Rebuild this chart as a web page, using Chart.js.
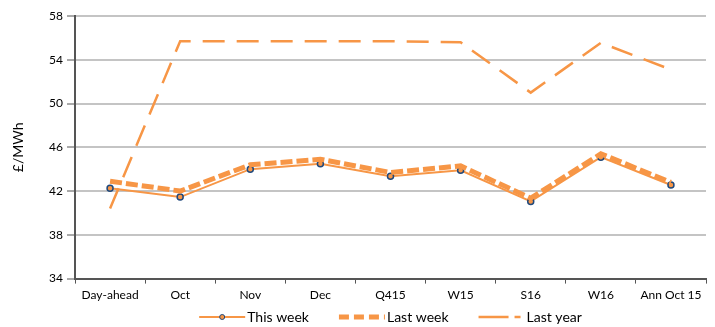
<!DOCTYPE html>
<html>
<head>
<meta charset="utf-8">
<script src="https://cdn.jsdelivr.net/npm/chart.js@4"></script>
<style>
  html, body { margin: 0; padding: 0; background: #fff; }
  #wrap { width: 715px; height: 327px; }
</style>
</head>
<body>
<div id="wrap"><canvas id="chart"></canvas></div>
<script>
// categories and values
const categories = ['Day-ahead', 'Oct', 'Nov', 'Dec', 'Q415', 'W15', 'S16', 'W16', 'Ann Oct 15'];
const thisWeek = [42.25, 41.45, 44.0, 44.5, 43.35, 43.9, 41.05, 45.1, 42.55];
const lastWeek = [42.9, 42.0, 44.4, 44.9, 43.7, 44.3, 41.35, 45.4, 42.8];
const lastYear = [40.4, 55.7, 55.7, 55.7, 55.7, 55.6, 51.0, 55.55, 53.1];
const yTicks = [34, 38, 42, 46, 50, 54, 58];

const orange = '#F79646';
const markerBorder = '#1F497D';
const fontFamily = 'Lato, "DejaVu Sans", sans-serif';

// legend drawn by hand under the x axis, centred on the plot area
const bottomLegend = {
    id: 'bottomLegend',
    afterDraw(chart) {
        const ctx = chart.ctx;
        const area = chart.chartArea;
        const lineLen = 46, textGap = 2, itemGap = 30;
        const y = 317;
        ctx.save();
        ctx.font = '14px ' + fontFamily;
        const items = chart.data.datasets.map(ds => ({ ds, w: lineLen + textGap + ctx.measureText(ds.label).width }));
        const total = items.reduce((s, it) => s + it.w, 0) + itemGap * (items.length - 1);
        let x = (area.left + area.right) / 2 - total / 2;
        items.forEach(({ ds, w }) => {
            ctx.beginPath();
            ctx.setLineDash(ds.legendDash || []);
            ctx.lineWidth = ds.borderWidth;
            ctx.strokeStyle = ds.borderColor;
            ctx.moveTo(x, y);
            ctx.lineTo(x + lineLen, y);
            ctx.stroke();
            ctx.setLineDash([]);
            if (ds.pointRadius > 0) {
                ctx.beginPath();
                ctx.arc(x + lineLen / 2, y, 2.5, 0, Math.PI * 2);
                ctx.fillStyle = ds.pointBackgroundColor;
                ctx.fill();
                ctx.lineWidth = 1;
                ctx.strokeStyle = ds.pointBorderColor;
                ctx.stroke();
            }
            ctx.fillStyle = '#000';
            ctx.textBaseline = 'middle';
            ctx.textAlign = 'left';
            ctx.fillText(ds.label, x + lineLen + textGap, y);
            x += w + itemGap;
        });
        ctx.restore();
    }
};

const ctx = document.getElementById('chart').getContext('2d');
new Chart(ctx, {
    type: 'line',
    data: {
        labels: categories,
        datasets: [
            {
                label: 'This week',
                data: thisWeek,
                borderColor: orange,
                backgroundColor: orange,
                borderWidth: 2,
                pointRadius: 3,
                pointBorderColor: markerBorder,
                pointBackgroundColor: orange,
                pointBorderWidth: 1.5,
                tension: 0,
                order: 2
            },
            {
                label: 'Last week',
                data: lastWeek,
                borderColor: orange,
                backgroundColor: orange,
                borderWidth: 5,
                borderDash: [12, 4],
                legendDash: [10, 5],
                pointRadius: 0,
                tension: 0,
                order: 1
            },
            {
                label: 'Last year',
                data: lastYear,
                borderColor: orange,
                backgroundColor: orange,
                borderWidth: 2.5,
                borderDash: [22, 12],
                legendDash: [30, 6, 6, 20],
                pointRadius: 0,
                tension: 0,
                order: 3
            }
        ]
    },
    options: {
        responsive: true,
        maintainAspectRatio: false,
        animation: false,
        layout: {
            padding: { left: 2, right: 9, top: 16, bottom: 21 }
        },
        plugins: {
            legend: { display: false },
            tooltip: { enabled: false }
        },
        scales: {
            x: {
                offset: true,
                grid: {
                    display: true,
                    offset: true,
                    drawOnChartArea: false,
                    drawTicks: true,
                    tickLength: 5,
                    color: '#555'
                },
                border: { display: true, color: '#555', width: 2 },
                ticks: {
                    color: '#000',
                    padding: 4,
                    maxRotation: 0,
                    autoSkip: false,
                    font: { family: fontFamily, size: 12 }
                }
            },
            y: {
                min: 34,
                max: 58,
                afterBuildTicks: (scale) => {
                    scale.ticks = yTicks.map(v => ({ value: v }));
                },
                afterFit: (scale) => {
                    scale.width = 73;
                },
                title: {
                    display: true,
                    text: '£/MWh',
                    color: '#000',
                    padding: { top: 8, bottom: 0 },
                    font: { family: fontFamily, size: 14 }
                },
                grid: {
                    color: '#c4c4c4',
                    lineWidth: 2,
                    tickLength: 8,
                    tickColor: '#555',
                    tickWidth: 1
                },
                border: { display: true, color: '#555', width: 2 },
                ticks: {
                    color: '#000',
                    padding: 4,
                    font: { family: fontFamily, size: 12 }
                }
            }
        }
    },
    plugins: [bottomLegend]
});
</script>
</body>
</html>
